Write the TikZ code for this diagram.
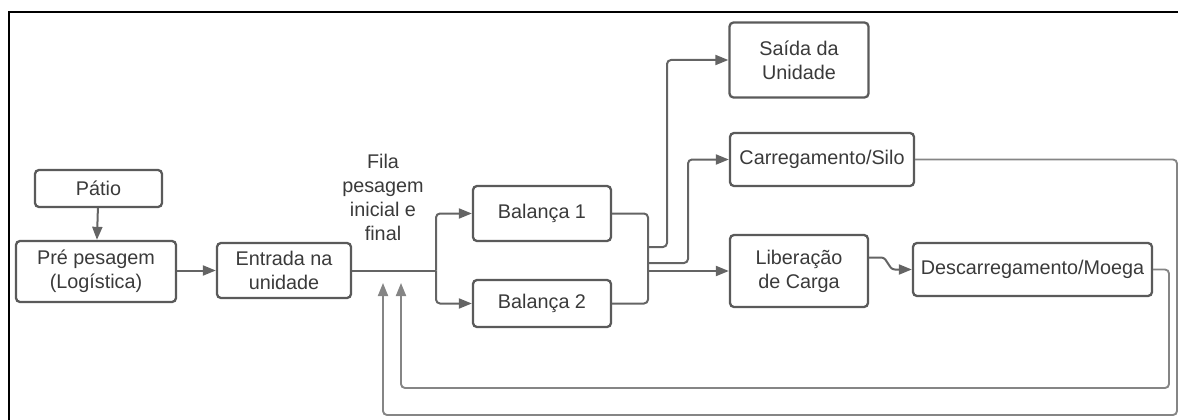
\documentclass[tikz,border=0pt]{standalone}
\usepackage{fontspec}
\setmainfont{Liberation Sans}
\usetikzlibrary{arrows.meta,calc}
\definecolor{boxline}{HTML}{5A5A5A}
\definecolor{connline}{HTML}{646464}
\definecolor{loopline}{HTML}{858585}
\definecolor{txt}{HTML}{3A3A3A}
\begin{document}
\begin{tikzpicture}[x=1pt,y=-1pt,
  every node/.style={font=\fontsize{19.8}{24}\selectfont, text=txt},
  stage/.style={draw=boxline, line width=2.3pt, rounded corners=4pt,
    rectangle, align=center, inner sep=2pt},
  conn/.style={draw=connline, line width=2pt, rounded corners=4pt},
  flow/.style={conn, -{Triangle[length=13pt,width=10pt]}},
  back/.style={draw=loopline, line width=1.9pt, rounded corners=4pt,
    -{Triangle[length=13pt,width=10pt]}, color=loopline}
]
\useasboundingbox (0,0) rectangle (1178,420);
% frame
\draw[black, line width=2.2pt] (9,420) -- (9,12) -- (1178,12);

% stages
\node[stage, minimum width=127pt, minimum height=37pt] (patio) at (98.5,188.5) {Pátio};
\node[stage, minimum width=160pt, minimum height=61pt] (pre) at (96,271.5) {Pré pesagem\\(Logística)};
\node[stage, minimum width=134pt, minimum height=55pt] (entrada) at (284,270.5) {Entrada na\\unidade};
\node[stage, minimum width=138pt, minimum height=55pt] (bal1) at (542,213.5) {Balança 1};
\node[stage, minimum width=138pt, minimum height=47pt] (bal2) at (542,303.5) {Balança 2};
\node[stage, minimum width=139pt, minimum height=75pt] (saida) at (799,60) {Saída da\\Unidade};
\node[stage, minimum width=184pt, minimum height=53pt] (carreg) at (822,159.5) {Carregamento/Silo};
\node[stage, minimum width=138pt, minimum height=72pt] (liber) at (799,271) {Liberação\\de Carga};
\node[stage, minimum width=239pt, minimum height=53pt] (descarr) at (1032.5,269.5) {Descarregamento/Moega};
\node[align=center] (fila) at (383,197) {Fila\\pesagem\\inicial e\\final};

% junction points
\coordinate (split) at (436,270.5);
\coordinate (merge) at (648,303.5);
\coordinate (toSaida) at (648,247);
\coordinate (toCarreg) at (648,263);
\coordinate (toLiber) at (648,271);
\coordinate (retOuter) at (383,283);
\coordinate (retInner) at (401,283);

% main flow
\draw[flow] (patio) -- (pre);
\draw[flow] (pre.east |- entrada.west) -- (entrada.west);
\draw[conn] (entrada.east) -- (split);
\draw[flow] (split) |- (bal1.west);
\draw[flow] (split) |- (bal2.west);
\draw[conn] (bal1.east) -| (merge) -- (bal2.east);
\draw[flow] (toSaida) -- (667,247) |- (saida.west);
\draw[flow] (toCarreg) -- (688,263) |- (carreg.west);
\draw[flow] (toLiber) -- (liber.west);
\draw[flow, rounded corners=0pt] ($(liber.east)+(0,-13.5)$) -- (881,257.5)
  to[out=0,in=180] (895,269.5) -- (descarr.west);

% return loops
\draw[back] (carreg.east) -- (1177,159.5) -- (1177,415) -- (383,415) -- (retOuter);
\draw[back] (descarr.east) -- (1169,269.5) -- (1169,388) -- (401,388) -- (retInner);
\end{tikzpicture}
\end{document}
